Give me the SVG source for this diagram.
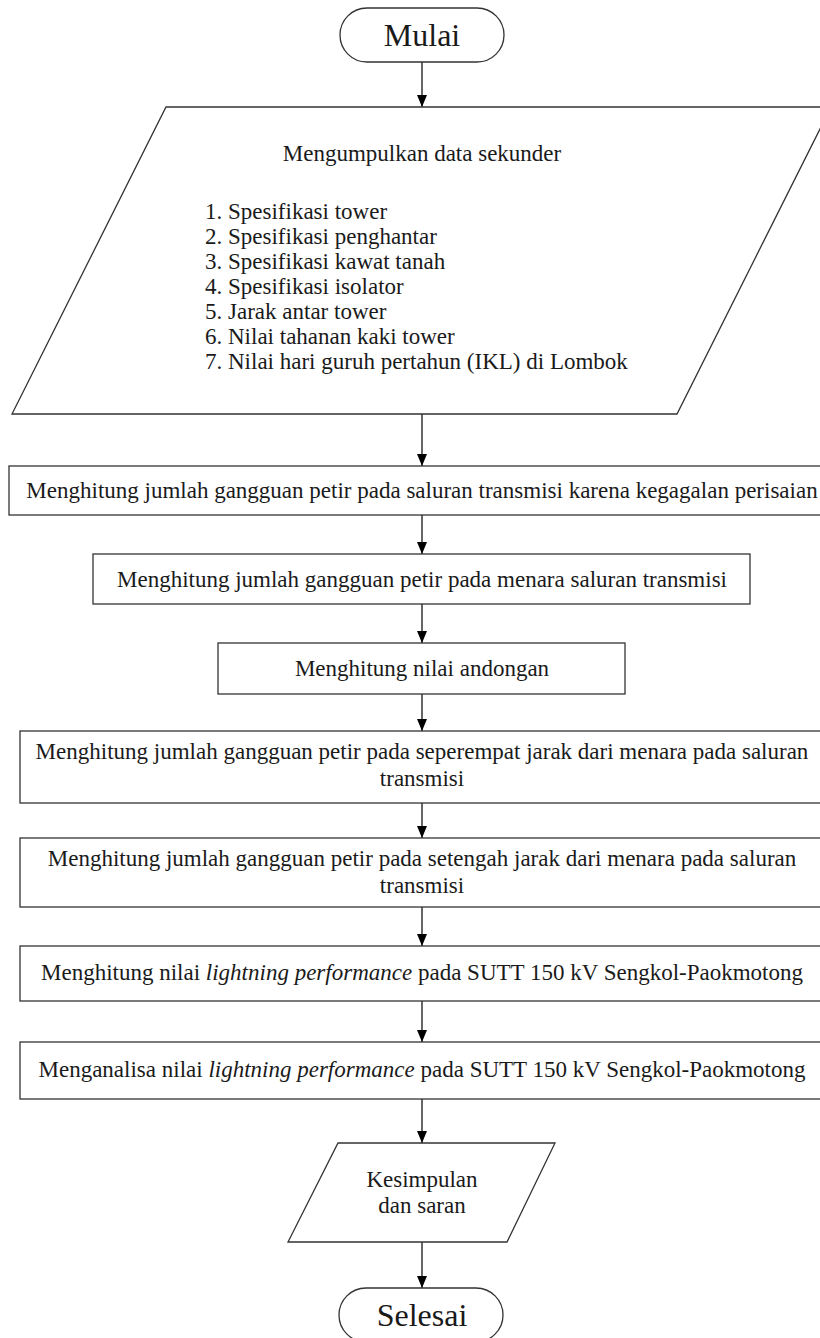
<svg xmlns="http://www.w3.org/2000/svg" width="820" height="1338" viewBox="0 0 820 1338">
<defs>
<marker id="ah" markerWidth="12" markerHeight="10" refX="12" refY="5" orient="auto" markerUnits="userSpaceOnUse" viewBox="0 0 12 10">
<path d="M0,0 L12,5 L0,10 Z" fill="#000"/>
</marker>
<style>
.sh{fill:#fff;stroke:#333;stroke-width:1.3}
.t{font-family:"Liberation Serif","Times New Roman",serif;font-size:23px;fill:#1a1a1a}
.c{text-anchor:middle}
.big{font-size:32px}
.it{font-style:italic}
.ln{stroke:#000;stroke-width:1.2;fill:none;marker-end:url(#ah)}
</style>
</defs>
<rect width="820" height="1338" fill="#fff"/>
<g id="connectors">
<line class="ln" x1="422" y1="62" x2="422" y2="107"/>
<line class="ln" x1="422" y1="414" x2="422" y2="466"/>
<line class="ln" x1="422" y1="515" x2="422" y2="554"/>
<line class="ln" x1="422" y1="604" x2="422" y2="643"/>
<line class="ln" x1="422" y1="694" x2="422" y2="731"/>
<line class="ln" x1="422" y1="803" x2="422" y2="838"/>
<line class="ln" x1="422" y1="907" x2="422" y2="946"/>
<line class="ln" x1="422" y1="1001" x2="422" y2="1042"/>
<line class="ln" x1="422" y1="1099" x2="422" y2="1143"/>
<line class="ln" x1="422" y1="1242" x2="422" y2="1288"/>
</g>
<g id="mulai">
<rect class="sh" x="340" y="8" width="164" height="54" rx="27"/>
<text class="t c big" x="422" y="46">Mulai</text>
</g>
<g id="data">
<polygon class="sh" points="166,107 831,107 677,414 12,414"/>
<text class="t c" x="422" y="161">Mengumpulkan data sekunder</text>
<text class="t" x="205" y="219">1. Spesifikasi tower</text>
<text class="t" x="205" y="244">2. Spesifikasi penghantar</text>
<text class="t" x="205" y="269">3. Spesifikasi kawat tanah</text>
<text class="t" x="205" y="294">4. Spesifikasi isolator</text>
<text class="t" x="205" y="319">5. Jarak antar tower</text>
<text class="t" x="205" y="344">6. Nilai tahanan kaki tower</text>
<text class="t" x="205" y="369">7. Nilai hari guruh pertahun (IKL) di Lombok</text>
</g>
<g id="step1">
<rect class="sh" x="9" y="466" width="826" height="49"/>
<text class="t c" x="422" y="498">Menghitung jumlah gangguan petir pada saluran transmisi karena kegagalan perisaian</text>
</g>
<g id="step2">
<rect class="sh" x="93" y="554" width="657" height="50"/>
<text class="t c" x="422" y="587">Menghitung jumlah gangguan petir pada menara saluran transmisi</text>
</g>
<g id="step3">
<rect class="sh" x="218" y="643" width="407" height="51"/>
<text class="t c" x="422" y="676">Menghitung nilai andongan</text>
</g>
<g id="step4">
<rect class="sh" x="20" y="731" width="806" height="72"/>
<text class="t c" x="422" y="759">Menghitung jumlah gangguan petir pada seperempat jarak dari menara pada saluran</text>
<text class="t c" x="422" y="786">transmisi</text>
</g>
<g id="step5">
<rect class="sh" x="20" y="838" width="806" height="69"/>
<text class="t c" x="422" y="866">Menghitung jumlah gangguan petir pada setengah jarak dari menara pada saluran</text>
<text class="t c" x="422" y="893">transmisi</text>
</g>
<g id="step6">
<rect class="sh" x="20" y="946" width="806" height="55"/>
<text class="t c" x="422" y="980">Menghitung nilai <tspan class="it">lightning performance</tspan> pada SUTT 150 kV Sengkol-Paokmotong</text>
</g>
<g id="step7">
<rect class="sh" x="20" y="1042" width="806" height="57"/>
<text class="t c" x="422" y="1077">Menganalisa nilai <tspan class="it">lightning performance</tspan> pada SUTT 150 kV Sengkol-Paokmotong</text>
</g>
<g id="kesimpulan">
<polygon class="sh" points="338,1143 555,1143 507,1242 288,1242"/>
<text class="t c" x="422" y="1187">Kesimpulan</text>
<text class="t c" x="422" y="1213">dan saran</text>
</g>
<g id="selesai">
<rect class="sh" x="339" y="1288" width="164" height="54" rx="27"/>
<text class="t c big" x="422" y="1326">Selesai</text>
</g>
</svg>
